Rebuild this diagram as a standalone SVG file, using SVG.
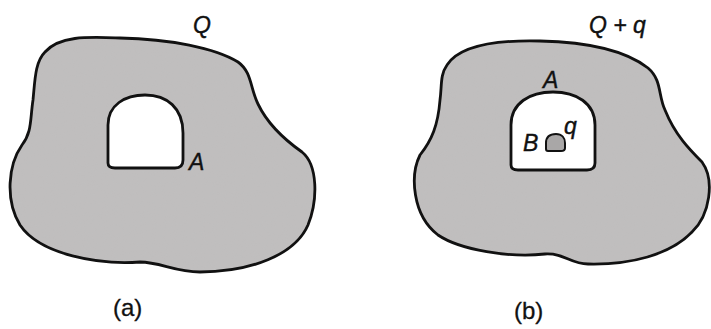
<svg xmlns="http://www.w3.org/2000/svg" width="711" height="329" viewBox="0 0 711 329">
<defs>
<filter id="grain" x="0" y="0" width="100%" height="100%">
<feTurbulence type="fractalNoise" baseFrequency="0.9" numOctaves="2" seed="3" result="n"/>
<feColorMatrix in="n" type="matrix" values="0 0 0 0 0.55  0 0 0 0 0.55  0 0 0 0 0.55  0 0 0 0.35 0" result="g"/>
<feComposite in="g" in2="SourceGraphic" operator="in" result="gc"/>
<feMerge><feMergeNode in="SourceGraphic"/><feMergeNode in="gc"/></feMerge>
</filter>
<path id="outlineA" d="M 45,52 C 60,35 90,37 120,38 C 170,39 215,48 238,62 C 252,72 250,88 258,104 C 268,125 285,140 302,152 C 318,165 318,200 308,225 C 295,255 250,272 200,272 C 175,272 160,262 140,262 C 100,265 40,255 20,225 C 5,200 8,165 22,145 C 32,132 30,120 33,100 C 35,80 35,62 45,52 Z"/>
<path id="outlineB" d="M 447,65 C 460,45 500,40 540,41 C 585,42 625,50 648,68 C 662,80 658,95 665,110 C 675,135 690,150 702,162 C 715,180 710,215 692,232 C 670,255 630,265 588,264 C 570,264 565,253 545,254 C 510,258 460,250 438,235 C 412,215 410,175 420,155 C 432,140 438,125 440,100 C 442,85 440,75 447,65 Z"/>
</defs>
<style>
.fillg{fill:#bfbdbd;stroke:none}
.edge{fill:none;stroke:#111;stroke-width:2.8;stroke-linejoin:round}
.hole{fill:#fff;stroke:#111;stroke-width:2.8}
.lbl{font-family:"Liberation Sans",Arial,sans-serif;font-style:italic;font-size:23px;fill:#111;stroke:#111;stroke-width:0.4}
.cap{font-family:"Liberation Sans",Arial,sans-serif;font-size:24px;fill:#111;stroke:#111;stroke-width:0.3}
</style>
<rect width="711" height="329" fill="#fff"/>
<g id="conductor-a">
<use href="#outlineA" class="fillg" filter="url(#grain)"/>
<use href="#outlineA" class="edge"/>
<path class="hole" d="M 108,163 L 108,125 C 108,105 125,95 145,95 C 167,95 183,108 183,133 L 183,160 C 183,166 180,168 175,168 L 115,168 C 110,168 108,166 108,163 Z"/>
<text class="lbl" x="193" y="33">Q</text>
<text class="lbl" x="189" y="170">A</text>
<text class="cap" x="113" y="316">(a)</text>
</g>
<g id="conductor-b">
<use href="#outlineB" class="fillg" filter="url(#grain)"/>
<use href="#outlineB" class="edge"/>
<path class="hole" d="M 511,165 L 511,125 C 511,103 530,92 553,92 C 576,92 595,103 595,125 L 595,163 C 595,168 592,170 587,170 L 518,170 C 513,170 511,168 511,165 Z"/>
<path id="charge-b" d="M 546,149 L 546,143 C 546,137 550,134 556,134 C 562,134 565,138 565,143 L 565,148 C 565,150 563,151 561,151 L 548,151 C 547,151 546,150 546,149 Z" fill="#a9a7a7" stroke="#111" stroke-width="2"/>
<text class="lbl" x="543" y="88">A</text>
<text class="lbl" x="589" y="33">Q + q</text>
<text class="lbl" x="523" y="151">B</text>
<text class="lbl" x="564" y="134" font-size="18">q</text>
<text class="cap" x="514" y="319">(b)</text>
</g>
</svg>
